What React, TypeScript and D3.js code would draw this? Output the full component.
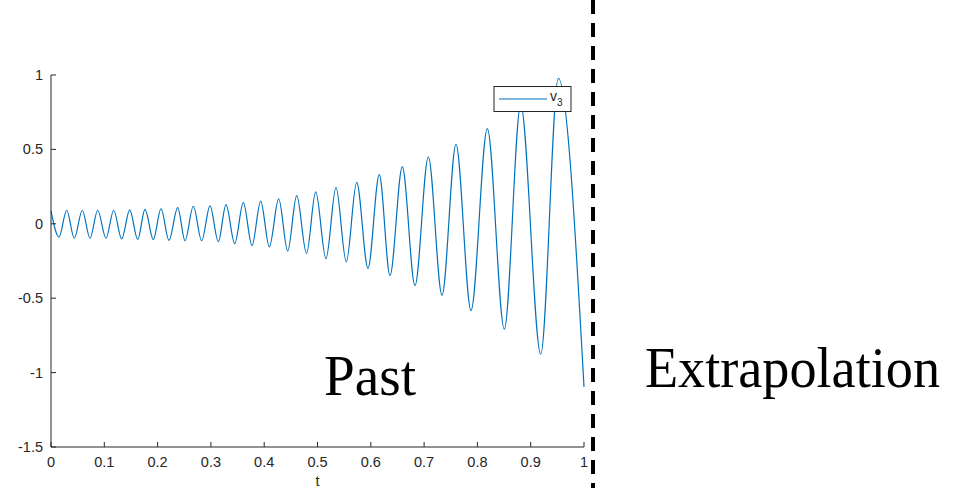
import React from "react";
import * as d3 from "d3";

// Extrema of v_3 (alternating peaks and troughs), plus the end point at t = 1
const tValues = [
  0, 0.015, 0.0295, 0.0437, 0.0587, 0.0732, 0.0876, 0.1032, 0.1176, 0.1326,
  0.1477, 0.1627, 0.1764, 0.1919, 0.2064, 0.2214, 0.2377, 0.2514, 0.267, 0.2827,
  0.2983, 0.3139, 0.3283, 0.3447, 0.3608, 0.3771, 0.3934, 0.4096, 0.4272, 0.4441,
  0.461, 0.4794, 0.4966, 0.5159, 0.5347, 0.554, 0.5735, 0.5947, 0.6159, 0.636,
  0.6591, 0.6829, 0.7079, 0.7336, 0.7598, 0.788, 0.8186, 0.8505, 0.8812, 0.9188,
  0.9518, 1.0,
];
const v3Values = [
  0.086, -0.089, 0.091, -0.097, 0.091, -0.097, 0.091, -0.097, 0.091, -0.101,
  0.094, -0.104, 0.097, -0.106, 0.101, -0.111, 0.109, -0.114, 0.118, -0.114,
  0.121, -0.12, 0.129, -0.133, 0.142, -0.146, 0.153, -0.155, 0.167, -0.183,
  0.19, -0.2, 0.214, -0.234, 0.243, -0.256, 0.279, -0.299, 0.331, -0.347,
  0.382, -0.415, 0.449, -0.48, 0.534, -0.583, 0.639, -0.708, 0.8, -0.876,
  0.977, -1.096,
];

const xTicks = [0, 0.1, 0.2, 0.3, 0.4, 0.5, 0.6, 0.7, 0.8, 0.9, 1];
const yTicks = [-1.5, -1, -0.5, 0, 0.5, 1];
const seriesName = "v";
const seriesSub = "3";
const xLabel = "t";
const pastLabel = "Past";
const futureLabel = "Extrapolation";

const W = 957;
const H = 488;
const axisColor = "#262626";
const lineColor = "#0072BD";
const sans = "'Liberation Sans', Arial, Helvetica, sans-serif";
const serif = "'Liberation Serif', 'Times New Roman', serif";

export default function App() {
  const x = d3.scaleLinear().domain([0, 1]).range([51, 584]);
  const y = d3.scaleLinear().domain([-1.5, 1]).range([447, 75]);

  const points: [number, number][] = tValues.map((t, i) => [t, v3Values[i]]);
  const line = d3
    .line<[number, number]>()
    .x((d) => x(d[0]))
    .y((d) => y(d[1]))
    .curve(d3.curveMonotoneX);

  const fmt = (v: number) => (v === 0 ? "0" : String(v));
  const divider = 593;

  return (
    <svg
      width={W}
      height={H}
      style={{ position: "absolute", left: 0, top: 0, background: "#fff" }}
    >
      <rect x={0} y={0} width={W} height={H} fill="#fff" />

      {/* data line */}
      <path d={line(points) ?? ""} fill="none" stroke={lineColor} strokeWidth={1.2} />

      {/* axes (left + bottom, ticks inward) */}
      <g stroke={axisColor} strokeWidth={1} fill="none">
        <line x1={x(0)} x2={x(0)} y1={y(1)} y2={y(-1.5)} />
        <line x1={x(0)} x2={x(1)} y1={y(-1.5)} y2={y(-1.5)} />
        {yTicks.map((v) => (
          <line key={"yt" + v} x1={x(0)} x2={x(0) + 5} y1={y(v)} y2={y(v)} />
        ))}
        {xTicks.map((v) => (
          <line key={"xt" + v} x1={x(v)} x2={x(v)} y1={y(-1.5)} y2={y(-1.5) - 5} />
        ))}
      </g>
      <g fill={axisColor} fontFamily={sans} fontSize={14.5}>
        {yTicks.map((v) => (
          <text key={"yl" + v} x={x(0) - 8} y={y(v) + 5} textAnchor="end">
            {fmt(v)}
          </text>
        ))}
        {xTicks.map((v) => (
          <text key={"xl" + v} x={x(v)} y={466.5} textAnchor="middle">
            {fmt(v)}
          </text>
        ))}
        <text x={(x(0) + x(1)) / 2} y={486} textAnchor="middle">
          {xLabel}
        </text>
      </g>

      {/* legend */}
      <g>
        <rect x={494} y={86.5} width={77} height={25} fill="#fff" stroke={axisColor} strokeWidth={1} />
        <line x1={499} x2={547} y1={99} y2={99} stroke={lineColor} strokeWidth={1.2} />
        <text x={550} y={101} fill={axisColor} fontFamily={sans} fontSize={14}>
          {seriesName}
          <tspan fontSize={10} dy={5}>
            {seriesSub}
          </tspan>
        </text>
      </g>

      {/* divider between past and extrapolation */}
      <line
        x1={divider}
        x2={divider}
        y1={0}
        y2={H}
        stroke="#000"
        strokeWidth={4}
        strokeDasharray="14 9"
      />

      <text
        x={324}
        y={395}
        fontFamily={serif}
        fontSize={58}
        fill="#000"
        textLength={92}
        lengthAdjust="spacingAndGlyphs"
      >
        {pastLabel}
      </text>
      <text
        x={645}
        y={387}
        fontFamily={serif}
        fontSize={57}
        fill="#000"
        textLength={295}
        lengthAdjust="spacingAndGlyphs"
      >
        {futureLabel}
      </text>
    </svg>
  );
}
